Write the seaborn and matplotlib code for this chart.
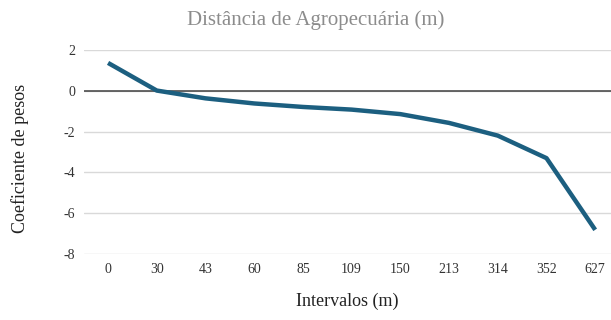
import matplotlib
matplotlib.use('Agg')
import matplotlib.pyplot as plt
import seaborn as sns
import pandas as pd

# dados
intervalos = ['0', '30', '43', '60', '85', '109', '150', '213', '314', '352', '627']
coeficientes = [1.35, 0.0, -0.38, -0.63, -0.8, -0.93, -1.15, -1.58, -2.2, -3.3, -6.8]

df = pd.DataFrame({'Intervalos': intervalos, 'Coeficiente': coeficientes})

sns.set_style('white')
plt.rcParams['font.family'] = ['Liberation Serif', 'DejaVu Serif']
plt.rcParams['axes.unicode_minus'] = False

fig = plt.figure(figsize=(6.11, 3.2), dpi=100)
ax = fig.add_axes([0.137, 0.205, 0.877, 0.64])

sns.lineplot(data=df, x='Intervalos', y='Coeficiente', ax=ax, color='#1c5f80',
             linewidth=3.2, sort=False, solid_joinstyle='round', solid_capstyle='butt')

ax.set_ylim(-8, 2)
ax.set_yticks([-8, -6, -4, -2, 0, 2])
ax.set_xlim(-0.5, len(intervalos) - 0.5)
ax.yaxis.grid(True, color='#d9d9d9', linewidth=1)
ax.axhline(0, color='#404040', linewidth=1.1, zorder=1)
for s in ax.spines.values():
    s.set_visible(False)
ax.tick_params(axis='x', length=0, labelsize=10, colors='#333333', pad=6)
ax.tick_params(axis='y', length=0, labelsize=10, colors='#333333', pad=6)

ax.set_title('Distância de Agropecuária (m)', color='#8c8c8c', fontsize=15, pad=18, x=0.432)
ax.set_xlabel('')
ax.set_ylabel('')
fig.text(0.568, 0.057, 'Intervalos (m)', ha='center', va='center', fontsize=13, color='#222222')
fig.text(0.033, 0.505, 'Coeficiente de pesos', ha='center', va='center', rotation=90,
         fontsize=13, color='#222222')

plt.savefig('out.png', dpi=100)
